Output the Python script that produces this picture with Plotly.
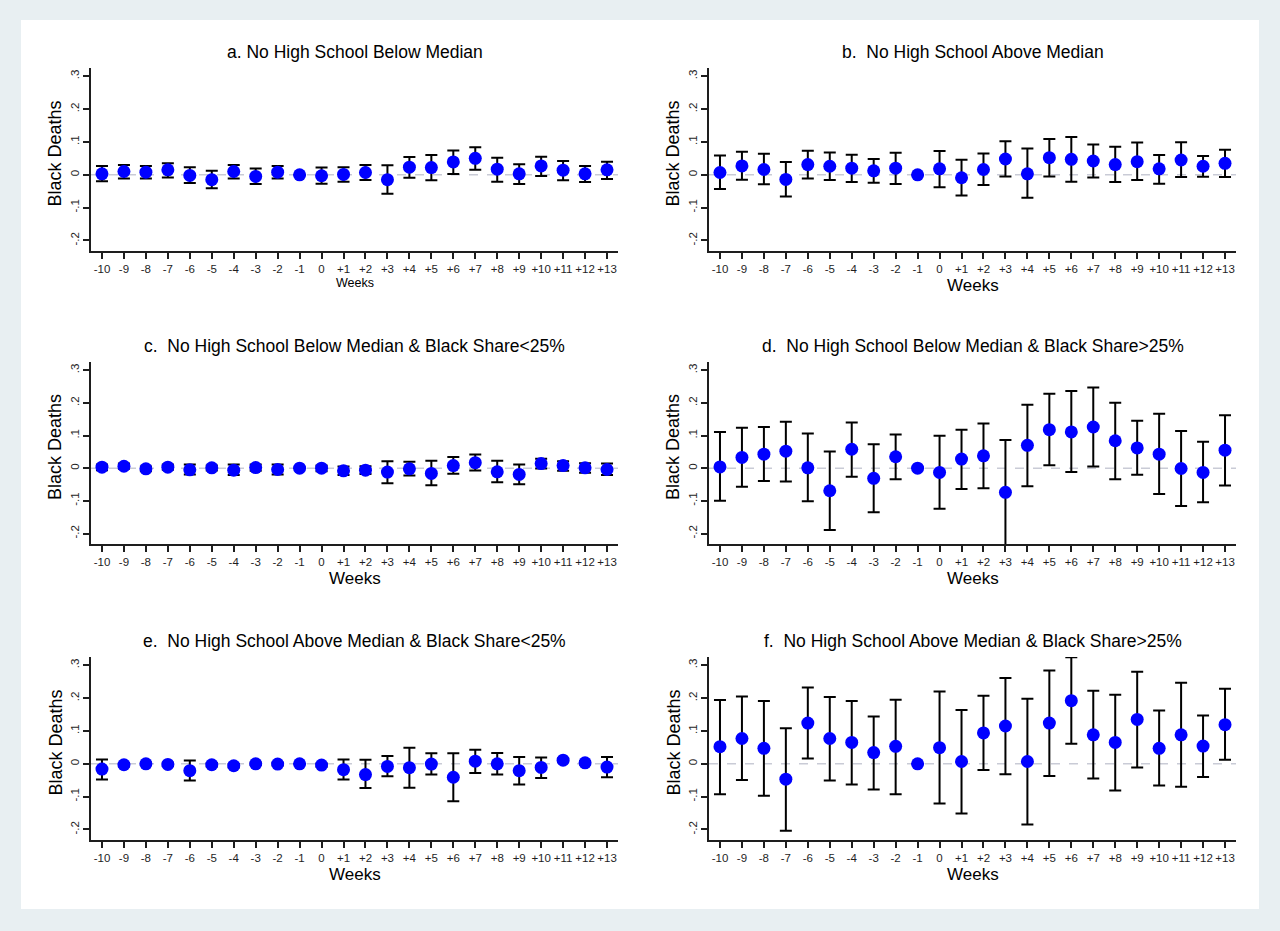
import plotly.graph_objects as go

# ---------------- data ----------------
WEEKS = list(range(-10, 14))
WEEK_LABELS = [str(w) if w <= 0 else "+" + str(w) for w in WEEKS]
Y_TICKS = [-0.2, -0.1, 0.0, 0.1, 0.2, 0.3]
Y_TICK_LABELS = ["-.2", "-.1", "0", ".1", ".2", ".3"]

TITLES = [
    "a. No High School Below Median",
    "b.  No High School Above Median",
    "c.  No High School Below Median & Black Share<25%",
    "d.  No High School Below Median & Black Share>25%",
    "e.  No High School Above Median & Black Share<25%",
    "f.  No High School Above Median & Black Share>25%",
]

a_est = [0.003, 0.010, 0.008, 0.015, -0.002, -0.015, 0.010, -0.005, 0.008, 0.0, -0.003, 0.001,
         0.007, -0.015, 0.023, 0.022, 0.039, 0.050, 0.017, 0.003, 0.027, 0.014, 0.003, 0.015]
a_hi = [0.027, 0.030, 0.027, 0.035, 0.023, 0.012, 0.030, 0.019, 0.027, 0.0, 0.022, 0.023,
        0.030, 0.029, 0.054, 0.060, 0.074, 0.084, 0.052, 0.032, 0.055, 0.042, 0.027, 0.040]
a_lo = [-0.020, -0.011, -0.011, -0.008, -0.025, -0.041, -0.011, -0.028, -0.011, 0.0, -0.027, -0.021,
        -0.016, -0.058, -0.009, -0.017, 0.002, 0.015, -0.021, -0.028, -0.004, -0.017, -0.022, -0.013]

b_est = [0.007, 0.027, 0.016, -0.014, 0.031, 0.026, 0.020, 0.012, 0.020, 0.0, 0.018, -0.009,
         0.016, 0.048, 0.003, 0.052, 0.047, 0.042, 0.031, 0.040, 0.018, 0.045, 0.026, 0.035]
b_hi = [0.059, 0.070, 0.064, 0.039, 0.073, 0.068, 0.061, 0.048, 0.067, 0.0, 0.072, 0.046,
        0.065, 0.102, 0.080, 0.109, 0.115, 0.092, 0.085, 0.098, 0.060, 0.099, 0.057, 0.076]
b_lo = [-0.043, -0.015, -0.029, -0.066, -0.011, -0.016, -0.022, -0.024, -0.028, 0.0, -0.038, -0.063,
        -0.031, -0.005, -0.070, -0.005, -0.021, -0.008, -0.022, -0.016, -0.027, -0.007, -0.006, -0.007]

c_est = [0.003, 0.006, -0.002, 0.003, -0.005, 0.001, -0.006, 0.002, -0.004, 0.0, 0.0, -0.008,
         -0.006, -0.012, -0.002, -0.016, 0.008, 0.017, -0.011, -0.019, 0.014, 0.008, 0.001, -0.004]
c_hi = [0.011, 0.014, 0.005, 0.011, 0.011, 0.008, 0.011, 0.011, 0.011, 0.0, 0.008, 0.005,
        0.006, 0.021, 0.020, 0.023, 0.034, 0.042, 0.023, 0.011, 0.029, 0.021, 0.015, 0.014]
c_lo = [-0.006, -0.002, -0.009, -0.005, -0.019, -0.007, -0.021, -0.008, -0.019, 0.0, -0.009, -0.021,
        -0.018, -0.046, -0.022, -0.052, -0.017, -0.007, -0.043, -0.049, -0.001, -0.008, -0.014, -0.021]

d_est = [0.004, 0.033, 0.043, 0.052, 0.001, -0.069, 0.058, -0.031, 0.035, 0.0, -0.013, 0.028,
         0.038, -0.074, 0.070, 0.118, 0.111, 0.126, 0.084, 0.062, 0.043, -0.001, -0.013, 0.055]
d_hi = [0.111, 0.124, 0.126, 0.142, 0.106, 0.051, 0.140, 0.073, 0.103, 0.0, 0.099, 0.118,
        0.137, 0.086, 0.194, 0.228, 0.236, 0.247, 0.200, 0.145, 0.167, 0.114, 0.081, 0.162]
d_lo = [-0.100, -0.057, -0.039, -0.041, -0.101, -0.189, -0.026, -0.135, -0.034, 0.0, -0.124, -0.064,
        -0.061, -0.245, -0.055, 0.009, -0.012, 0.005, -0.034, -0.020, -0.079, -0.116, -0.104, -0.053]

e_est = [-0.016, -0.003, 0.0, -0.002, -0.021, -0.003, -0.006, 0.0, -0.001, 0.0, -0.004, -0.018,
         -0.033, -0.008, -0.012, -0.001, -0.041, 0.008, 0.0, -0.021, -0.011, 0.011, 0.003, -0.010]
e_hi = [0.013, 0.002, 0.004, 0.003, 0.010, 0.002, -0.001, 0.004, 0.003, 0.0, 0.001, 0.013,
        0.012, 0.024, 0.049, 0.032, 0.032, 0.043, 0.033, 0.021, 0.019, 0.016, 0.008, 0.021]
e_lo = [-0.048, -0.008, -0.004, -0.007, -0.051, -0.008, -0.011, -0.004, -0.005, 0.0, -0.009, -0.048,
        -0.074, -0.038, -0.073, -0.033, -0.114, -0.028, -0.033, -0.063, -0.043, 0.006, -0.002, -0.041]

f_est = [0.052, 0.077, 0.047, -0.047, 0.124, 0.077, 0.065, 0.034, 0.053, 0.0, 0.049, 0.007,
         0.094, 0.115, 0.007, 0.124, 0.192, 0.088, 0.065, 0.135, 0.047, 0.088, 0.054, 0.119]
f_hi = [0.194, 0.205, 0.191, 0.108, 0.232, 0.203, 0.191, 0.144, 0.195, 0.0, 0.220, 0.164,
        0.207, 0.261, 0.198, 0.284, 0.324, 0.222, 0.210, 0.280, 0.162, 0.247, 0.147, 0.228]
f_lo = [-0.093, -0.049, -0.097, -0.204, 0.016, -0.051, -0.063, -0.078, -0.093, 0.0, -0.121, -0.151,
        -0.019, -0.032, -0.185, -0.037, 0.061, -0.045, -0.081, -0.011, -0.066, -0.070, -0.040, 0.012]

PANELS = [(a_est, a_lo, a_hi), (b_est, b_lo, b_hi), (c_est, c_lo, c_hi),
          (d_est, d_lo, d_hi), (e_est, e_lo, e_hi), (f_est, f_lo, f_hi)]

# ---------------- layout geometry (pixels) ----------------
W, H = 1280, 931
COLS = [(91, 618), (709, 1236)]
ROWS = [(68, 251), (362, 544), (657, 840)]
FONT = "Liberation Sans, Arial, sans-serif"


def px_x(p):
    return p / W


def px_y(p):
    return 1 - p / H


fig = go.Figure()
annotations = []
shapes = [dict(type="rect", xref="paper", yref="paper", x0=px_x(21), x1=px_x(1259),
               y0=px_y(909), y1=px_y(20), fillcolor="white", line=dict(width=0), layer="below")]

for i, (est, lo, hi) in enumerate(PANELS):
    r, c = divmod(i, 2)
    n = i + 1
    xa = "x" if n == 1 else f"x{n}"
    ya = "y" if n == 1 else f"y{n}"
    plus = [h - e for h, e in zip(hi, est)]
    minus = [e - l for e, l in zip(est, lo)]
    fig.add_trace(go.Scatter(
        x=WEEKS, y=est, mode="markers", xaxis=xa, yaxis=ya, showlegend=False,
        marker=dict(color="#0000ff", size=13, line=dict(width=0)),
        error_y=dict(type="data", symmetric=False, array=plus, arrayminus=minus,
                     color="black", thickness=2, width=6),
    ))
    x0, x1 = COLS[c]
    y0, y1 = ROWS[r]
    axis_common = dict(showline=True, linecolor="#1e1e1e", linewidth=1.5, ticks="outside",
                       ticklen=6, tickwidth=1.5, tickcolor="#1e1e1e", showgrid=False,
                       zeroline=False, tickfont=dict(family=FONT, size=11.5, color="#1e1e1e"))
    fig.layout[("xaxis" if n == 1 else f"xaxis{n}")] = dict(
        domain=[px_x(x0), px_x(x1)], anchor=ya, range=[-10.5, 13.5],
        tickmode="array", tickvals=WEEKS, ticktext=WEEK_LABELS, **axis_common)
    fig.layout[("yaxis" if n == 1 else f"yaxis{n}")] = dict(
        domain=[px_y(y1), px_y(y0)], anchor=xa, range=[-0.232, 0.325],
        tickmode="array", tickvals=Y_TICKS, ticktext=Y_TICK_LABELS, tickangle=-90, **axis_common)
    shapes.append(dict(type="line", xref=f"{xa} domain", yref=ya, x0=0, x1=1, y0=0, y1=0,
                       line=dict(color="#c9cbd6", width=1.5, dash="dash"), layer="below"))
    # panel title
    annotations.append(dict(text=TITLES[i], xref="paper", yref="paper",
                            x=px_x((x0 + x1) / 2), y=px_y(y0 - 16), xanchor="center", yanchor="middle",
                            showarrow=False, font=dict(family=FONT, size=17.5, color="black")))
    # y title
    annotations.append(dict(text="Black Deaths", xref="paper", yref="paper", textangle=-90,
                            x=px_x(x0 - 36), y=px_y((y0 + y1) / 2 - 6), xanchor="center", yanchor="middle",
                            showarrow=False, font=dict(family=FONT, size=18, color="black")))
    # x title
    wk_size = 12.5 if i == 0 else 17
    wk_off = 32 if i == 0 else 34
    annotations.append(dict(text="Weeks", xref="paper", yref="paper",
                            x=px_x((x0 + x1) / 2), y=px_y(y1 + wk_off), xanchor="center", yanchor="middle",
                            showarrow=False, font=dict(family=FONT, size=wk_size, color="black")))

fig.update_layout(
    width=W, height=H, margin=dict(l=0, r=0, t=0, b=0),
    paper_bgcolor="#e8eff2", plot_bgcolor="white",
    annotations=annotations, shapes=shapes,
    font=dict(family=FONT),
)

fig.write_html("out.html", config={"displayModeBar": False},
               post_script="document.body.style.margin='0';document.body.style.overflow='hidden';")
